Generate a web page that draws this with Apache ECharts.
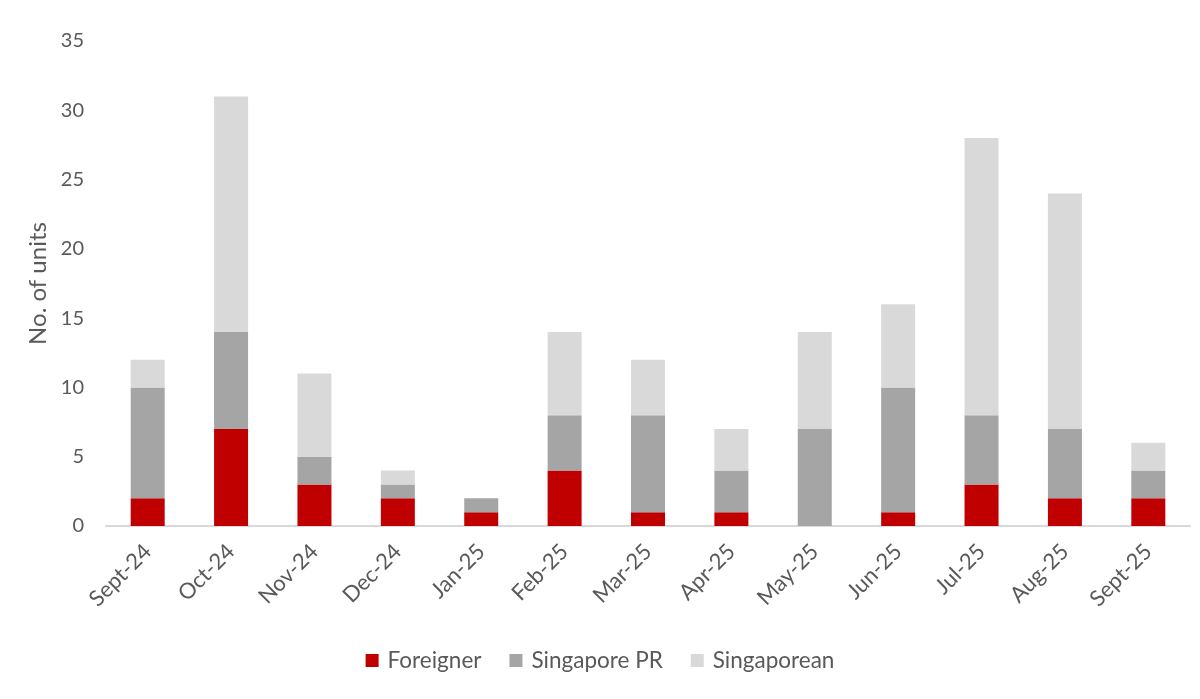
<!DOCTYPE html>
<html><head><meta charset="utf-8">
<script src="https://cdn.jsdelivr.net/npm/echarts@6/dist/echarts.min.js"></script>
<style>html,body{margin:0;padding:0;background:#fff}#c{width:1200px;height:699px}</style>
</head><body><div id="c"></div>
<script>
var categories = ['Sept-24','Oct-24','Nov-24','Dec-24','Jan-25','Feb-25','Mar-25','Apr-25','May-25','Jun-25','Jul-25','Aug-25','Sept-25'];
var foreigner   = [2, 7, 3, 2, 1, 4, 1, 1, 0, 1, 3, 2, 2];
var singaporePR = [8, 7, 2, 1, 1, 4, 7, 3, 7, 9, 5, 5, 2];
var singaporean = [2,17, 6, 1, 0, 6, 4, 3, 7, 6,20,17, 2];
var yTicks = [0,5,10,15,20,25,30,35];

var font = 'Lato';
var txt = '#595959';
var chart = echarts.init(document.getElementById('c'));
function s(name, data, color){
  return {name:name, type:'bar', stack:'t', data:data, barWidth:34,
    itemStyle:{color:color}, emphasis:{disabled:true}};
}
chart.setOption({
  animation:false,
  grid:{left:106, right:10, top:41, bottom:173},
  legend:{bottom:22, left:'center', itemWidth:13, itemHeight:13, itemGap:28,
    icon:'rect', textStyle:{fontFamily:font, fontSize:22.5, color:txt, padding:[0,0,0,4]}},
  xAxis:{type:'category', data:categories,
    axisLine:{lineStyle:{color:'#d9d9d9', width:2}},
    axisTick:{show:false},
    axisLabel:{rotate:45, fontFamily:font, fontSize:22, color:txt, margin:22}},
  yAxis:{type:'value', min:yTicks[0], max:yTicks[yTicks.length-1], interval:5,
    name:'No. of units', nameLocation:'middle', nameGap:54,
    nameTextStyle:{fontFamily:font, fontSize:24, color:txt},
    axisLine:{show:false}, axisTick:{show:false}, splitLine:{show:false},
    axisLabel:{fontFamily:font, fontSize:20, color:txt, margin:22}},
  series:[s('Foreigner', foreigner, '#c00000'), s('Singapore PR', singaporePR, '#a5a5a5'), s('Singaporean', singaporean, '#d9d9d9')]
});
</script></body></html>
